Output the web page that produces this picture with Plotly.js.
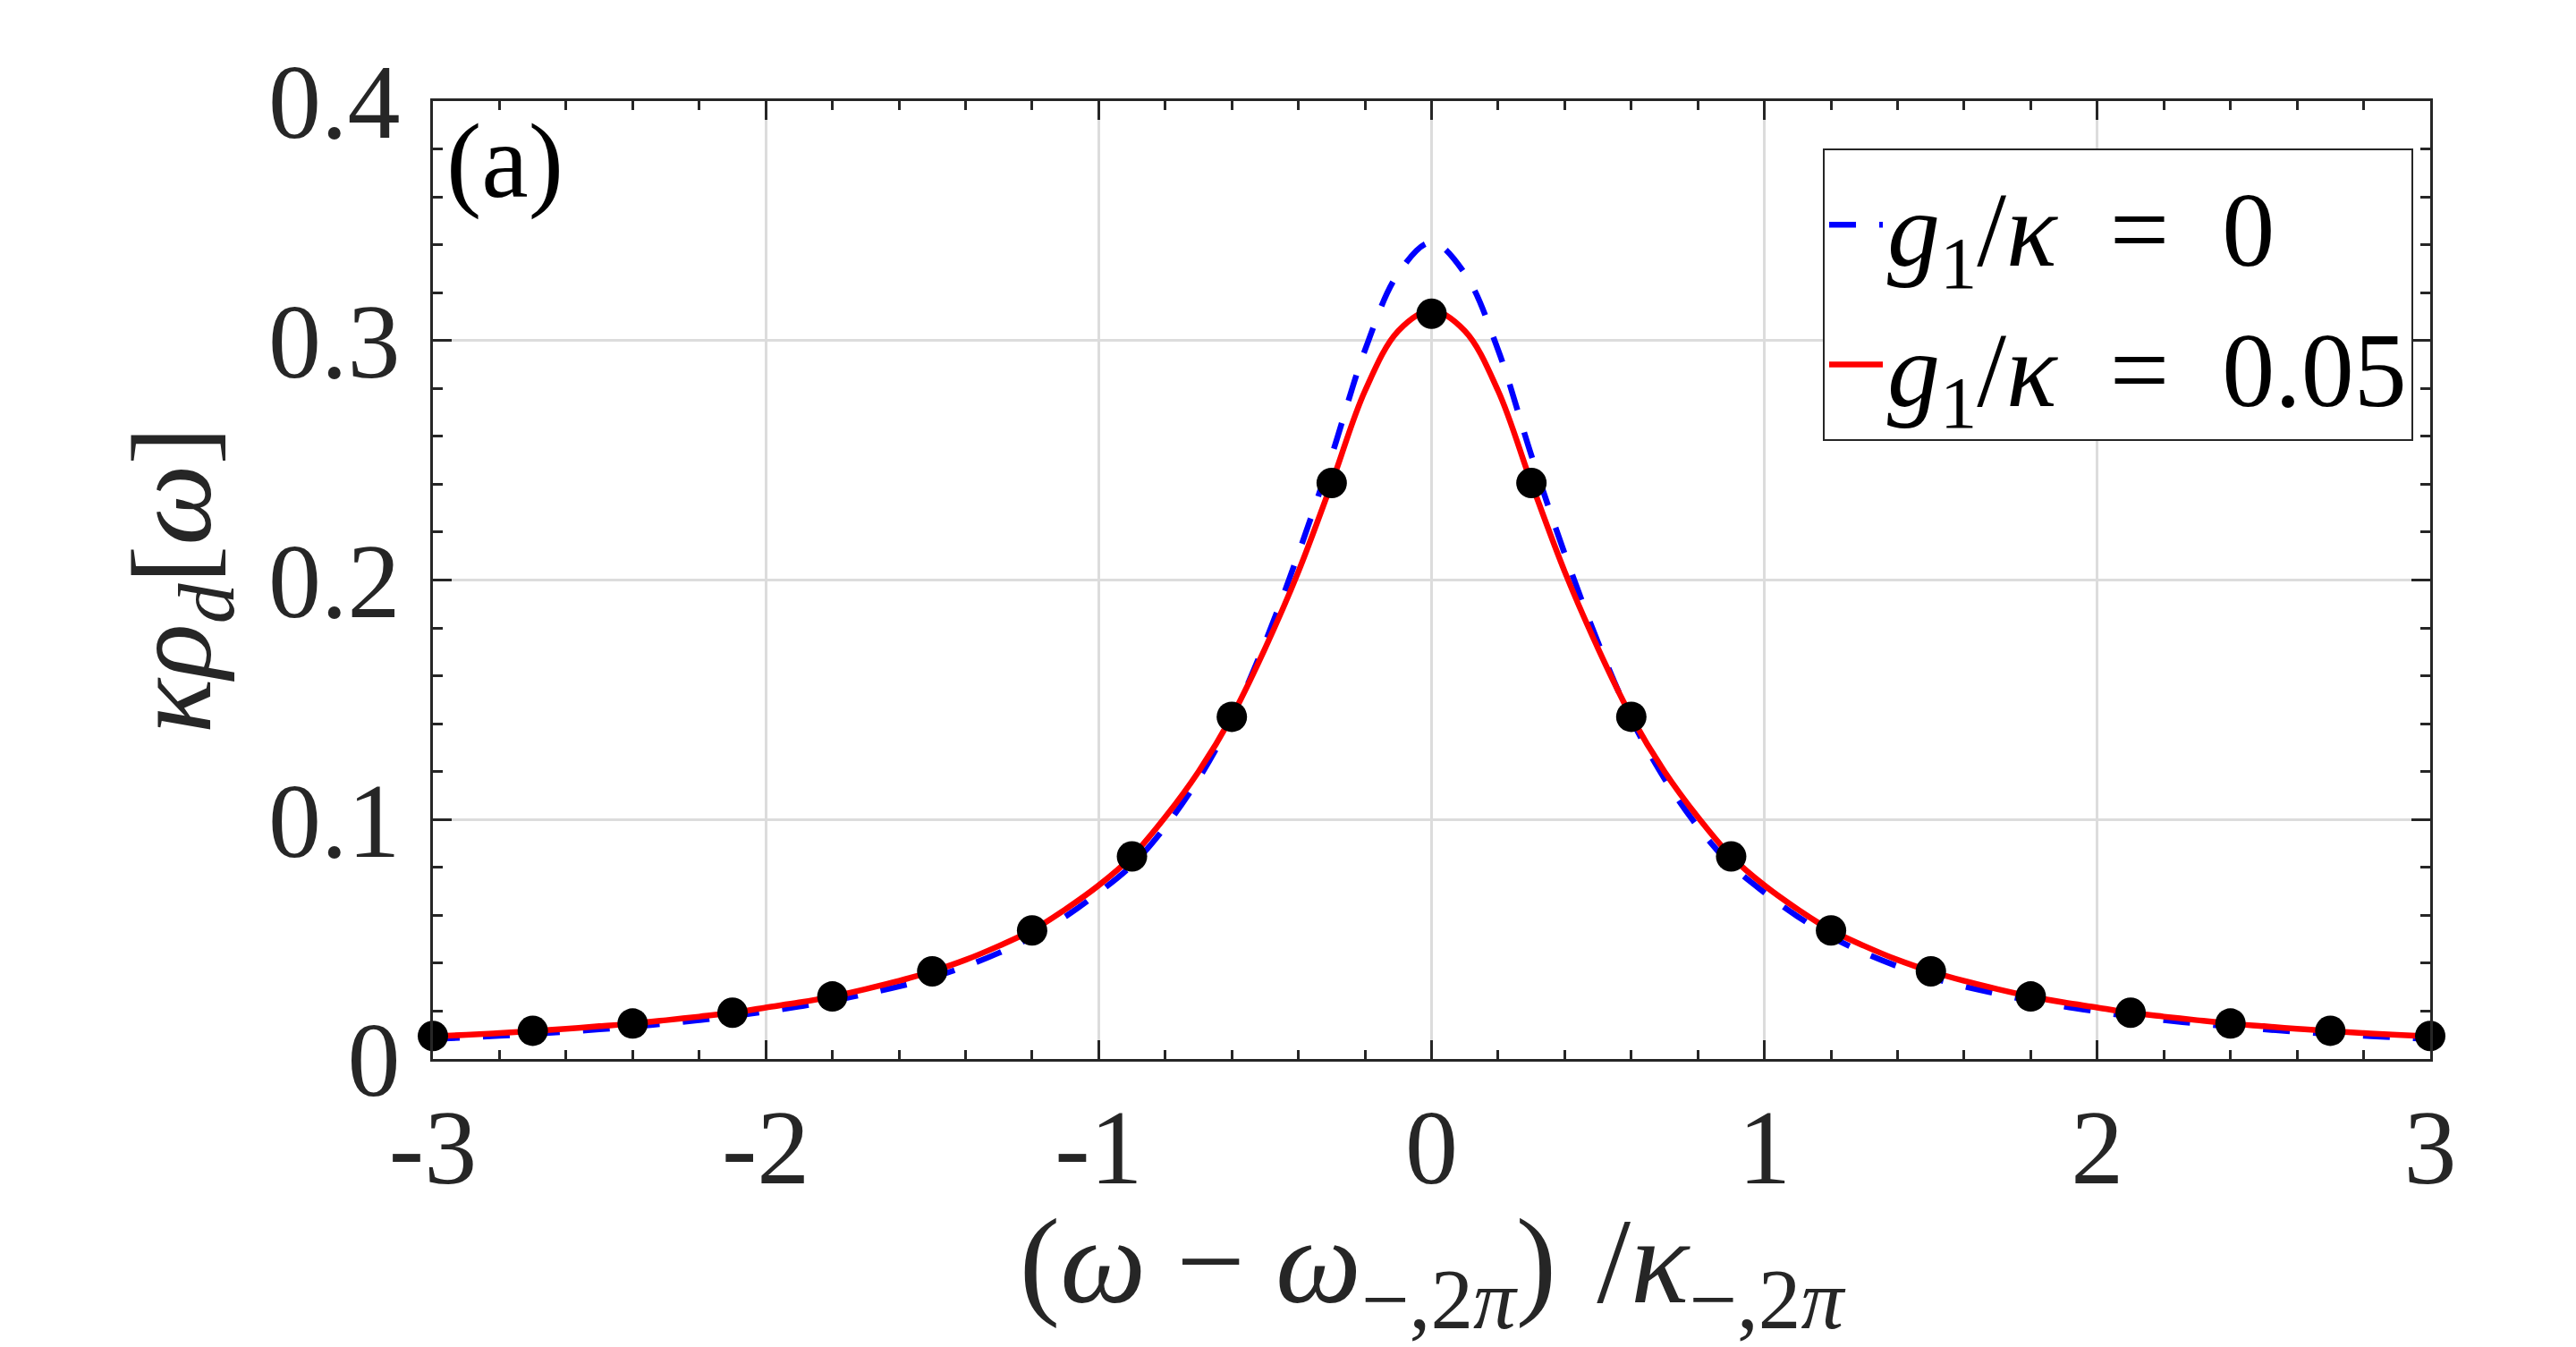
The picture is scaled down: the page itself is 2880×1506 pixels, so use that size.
<!DOCTYPE html>
<html>
<head>
<meta charset="utf-8">
<script src="https://cdn.plot.ly/plotly-3.0.1.min.js"></script>
<style>
html,body{margin:0;padding:0;background:#fff;}
#chart{width:2880px;height:1506px;}
</style>
</head>
<body>
<div id="chart"></div>
<script>
// ---- data ----
const xCurve = [-3,-2.9,-2.8,-2.7,-2.6,-2.5,-2.4,-2.3,-2.2,-2.1,-2,-1.9,-1.8,-1.7,-1.6,-1.5,-1.4,-1.3,-1.2,-1.1,-1,-0.9,-0.8,-0.7,-0.6,-0.5,-0.4,-0.3,-0.2,-0.1,0,0.1,0.2,0.3,0.4,0.5,0.6,0.7,0.8,0.9,1,1.1,1.2,1.3,1.4,1.5,1.6,1.7,1.8,1.9,2,2.1,2.2,2.3,2.4,2.5,2.6,2.7,2.8,2.9,3];

// g1/kappa = 0 (blue dashed)
const yG0 = [0.0084,0.0090,0.0097,0.0105,0.0114,0.0124,0.0135,0.0148,0.0162,0.0178,0.0198,0.0219,0.0243,0.0272,0.0303,0.0340,0.0387,0.0443,0.0510,0.0595,0.0695,0.081,0.097,0.117,0.142,0.174,0.211,0.252,0.296,0.328,
             0.341,
             0.328,0.296,0.252,0.211,0.174,0.142,0.117,0.097,0.081,0.0695,0.0595,0.0510,0.0443,0.0387,0.0340,0.0303,0.0272,0.0243,0.0219,0.0198,0.0178,0.0162,0.0148,0.0135,0.0124,0.0114,0.0105,0.0097,0.0090,0.0084];

// g1/kappa = 0.05 (red solid)
const yG005 = [0.0094,0.0101,0.0108,0.0117,0.0126,0.0137,0.0148,0.0162,0.0177,0.0193,0.0215,0.0236,0.0261,0.0292,0.0326,0.0366,0.0414,0.0472,0.0537,0.0625,0.0725,0.0846,0.101,0.120,0.143,0.1715,0.2035,0.2405,0.279,0.304,
               0.3125,
               0.304,0.279,0.2405,0.2035,0.1715,0.143,0.120,0.101,0.0846,0.0725,0.0625,0.0537,0.0472,0.0414,0.0366,0.0326,0.0292,0.0261,0.0236,0.0215,0.0193,0.0177,0.0162,0.0148,0.0137,0.0126,0.0117,0.0108,0.0101,0.0094];

// black dots
const xDots = [-3,-2.7,-2.4,-2.1,-1.8,-1.5,-1.2,-0.9,-0.6,-0.3,0,0.3,0.6,0.9,1.2,1.5,1.8,2.1,2.4,2.7,3];
const yDots = [0.0096,0.0118,0.0148,0.0193,0.0261,0.0366,0.0537,0.0846,0.1429,0.2405,0.3112,0.2405,0.1429,0.0846,0.0537,0.0366,0.0261,0.0193,0.0148,0.0118,0.0096];

const xTickVals = [-3,-2,-1,0,1,2,3];
const xTickText = ['-3','-2','-1','0','1','2','3'];
const yTickVals = [0,0.1,0.2,0.3,0.4];
const yTickText = ['0','0.1','0.2','0.3','0.4'];

const legendNames = ['<i>g</i><sub>1</sub>/<i>κ</i>\u2002=\u20020', '<i>g</i><sub>1</sub>/<i>κ</i>\u2002=\u20020.05'];

// ---- chart ----
const axisColor = '#262626';
const serif = 'Liberation Serif';

const traces = [
  {x: xCurve, y: yG0, mode: 'lines', name: legendNames[0],
   line: {color: '#0000ff', width: 6.5, dash: '30px,26px', shape: 'spline', smoothing: 1}},
  {x: xCurve, y: yG005, mode: 'lines', name: legendNames[1],
   line: {color: '#ff0000', width: 6.5, shape: 'spline', smoothing: 1}},
  {x: xDots, y: yDots, mode: 'markers', showlegend: false, cliponaxis: false,
   marker: {color: '#000000', size: 34, line: {width: 0}}}
];

const commonAxis = {
  showline: true, linecolor: axisColor, linewidth: 3, mirror: 'allticks',
  ticks: 'inside', ticklen: 21, tickwidth: 3, tickcolor: axisColor,
  showgrid: true, gridcolor: '#dcdcdc', gridwidth: 3,
  zeroline: false, tickfont: {family: serif, size: 118, color: axisColor},
  fixedrange: true
};

const layout = {
  width: 2880, height: 1506,
  margin: {l: 484, r: 163, t: 113, b: 322, pad: 0},
  paper_bgcolor: '#ffffff', plot_bgcolor: '#ffffff',
  showlegend: true,
  xaxis: Object.assign({}, commonAxis, {
    range: [-3, 3], tickmode: 'array', tickvals: xTickVals, ticktext: xTickText,
    ticklabelstandoff: -6,
    minor: {dtick: 0.2, tick0: -3, ticks: 'inside', ticklen: 10, tickwidth: 3, tickcolor: axisColor, showgrid: false},
    title: {text: '(<i>ω</i> − <i>ω</i><sub>−,2<i>π</i></sub>)\u2004/<i>κ</i><sub>−,2<i>π</i></sub>',
            font: {family: serif, size: 136, color: axisColor}, standoff: 40}
  }),
  yaxis: Object.assign({}, commonAxis, {
    range: [0, 0.4], tickmode: 'array', tickvals: yTickVals, ticktext: yTickText,
    ticklabelstandoff: 10,
    minor: {dtick: 0.02, tick0: 0, ticks: 'inside', ticklen: 11, tickwidth: 3, tickcolor: axisColor, showgrid: false},
    title: {text: '<i>κρ</i><sub><i>d</i></sub>[<i>ω</i>]',
            font: {family: serif, size: 128, color: axisColor}, standoff: 22}
  }),
  legend: {
    x: 0.9915, y: 0.9505, xanchor: 'right', yanchor: 'top',
    bgcolor: '#ffffff', bordercolor: axisColor, borderwidth: 2,
    font: {family: serif, size: 118, color: '#000000'},
    itemwidth: 60, tracegroupgap: 0
  },
  annotations: [{
    text: '(a)', xref: 'paper', yref: 'paper', x: 0.006, y: 1.0,
    xanchor: 'left', yanchor: 'top', showarrow: false,
    font: {family: serif, size: 118, color: '#000000'}
  }]
};

Plotly.newPlot('chart', traces, layout, {displayModeBar: false, staticPlot: true});
</script>
</body>
</html>
